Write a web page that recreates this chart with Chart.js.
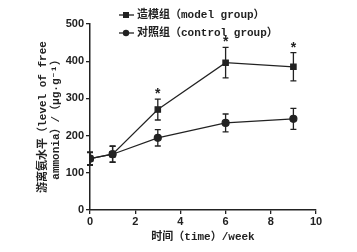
<!DOCTYPE html>
<html lang="zh">
<head>
<meta charset="UTF-8">
<title>游离氨水平</title>
<style>
    html, body { margin: 0; padding: 0; background: #fff; }
    #wrap { width: 357px; height: 252px; }
</style>
</head>
<body>
<div id="wrap"><canvas id="chart" width="357" height="252"></canvas></div>
<script src="https://cdn.jsdelivr.net/npm/chart.js"></script>
<script>
// data
const weeks = [0, 1, 3, 6, 9];
const modelMean = [138, 150, 270, 396, 385];
const modelErr = [18, 22, 28, 41, 38];
const controlMean = [138, 150, 194, 234, 245];
const controlErr = [16, 21, 22, 24, 28];
const starWeeks = [3, 6, 9];
const modelLabel = '造模组（model group）';
const controlLabel = '对照组（control group）';
const xTicks = [0, 2, 4, 6, 8, 10];
const yTicks = [0, 100, 200, 300, 400, 500];

const ink = '#222';
const txtFont = '"Liberation Mono", "Noto Sans CJK SC", monospace';
const numFont = '"Liberation Sans", Arial, sans-serif';

function pts(ys) {
    return weeks.map((w, i) => ({ x: w, y: ys[i] }));
}

// error bars + significance stars
const errorBars = {
    id: 'errorBars',
    beforeDatasetsDraw(chart) {
        const { ctx, scales: { x, y } } = chart;
        ctx.save();
        ctx.strokeStyle = ink;
        ctx.lineWidth = 1.3;
        [[modelMean, modelErr], [controlMean, controlErr]].forEach(([m, e]) => {
            weeks.forEach((w, i) => {
                const px = x.getPixelForValue(w);
                const top = y.getPixelForValue(m[i] + e[i]);
                const bot = y.getPixelForValue(m[i] - e[i]);
                ctx.beginPath();
                ctx.moveTo(px, top); ctx.lineTo(px, bot);
                ctx.moveTo(px - 3, top); ctx.lineTo(px + 3, top);
                ctx.moveTo(px - 3, bot); ctx.lineTo(px + 3, bot);
                ctx.stroke();
            });
        });
        ctx.restore();
    },
    afterDatasetsDraw(chart) {
        const { ctx, scales: { x, y } } = chart;
        ctx.save();
        ctx.fillStyle = ink;
        ctx.font = 'bold 14px ' + numFont;
        ctx.textAlign = 'center';
        ctx.textBaseline = 'middle';
        starWeeks.forEach(w => {
            const i = weeks.indexOf(w);
            const top = y.getPixelForValue(modelMean[i] + modelErr[i]);
            ctx.fillText('*', x.getPixelForValue(w), top - 5);
        });
        ctx.restore();
    }
};

// legend drawn as line + marker + text
const lineLegend = {
    id: 'lineLegend',
    afterDraw(chart) {
        const { ctx } = chart;
        ctx.save();
        ctx.strokeStyle = ink;
        ctx.fillStyle = ink;
        ctx.lineWidth = 1.3;
        ctx.font = 'bold 11px ' + txtFont;
        ctx.textBaseline = 'middle';
        const rows = [[modelLabel, 'rect', 15], [controlLabel, 'circle', 33]];
        rows.forEach(([label, shape, yy]) => {
            ctx.beginPath();
            ctx.moveTo(119, yy); ctx.lineTo(134, yy);
            ctx.stroke();
            ctx.beginPath();
            if (shape === 'rect') ctx.rect(123, yy - 3, 6, 6);
            else ctx.arc(126, yy, 3.2, 0, Math.PI * 2);
            ctx.fill();
            ctx.fillText(label, 137, yy);
        });
        ctx.restore();
    }
};

new Chart(document.getElementById('chart'), {
    type: 'line',
    data: {
        datasets: [
            {
                label: modelLabel,
                data: pts(modelMean),
                borderColor: ink,
                backgroundColor: ink,
                borderWidth: 1.2,
                pointStyle: 'rect',
                pointRadius: 3.8,
                tension: 0
            },
            {
                label: controlLabel,
                data: pts(controlMean),
                borderColor: ink,
                backgroundColor: ink,
                borderWidth: 1.2,
                pointStyle: 'circle',
                pointRadius: 3.5,
                tension: 0
            }
        ]
    },
    options: {
        responsive: false,
        animation: false,
        devicePixelRatio: 1,
        layout: { padding: { top: 24, right: 41, left: 36, bottom: 8 } },
        plugins: { legend: { display: false }, tooltip: { enabled: false } },
        scales: {
            x: {
                type: 'linear',
                min: 0,
                max: 10,
                afterFit: s => { s.height = 34; },
                afterBuildTicks: s => { s.ticks = xTicks.map(v => ({ value: v })); },
                grid: { drawOnChartArea: false, drawTicks: true, tickLength: 4, color: ink, lineWidth: 1.3 },
                border: { display: true, color: ink, width: 1.5 },
                ticks: { color: ink, padding: 1, font: { family: numFont, size: 11, weight: 'bold' } },
                title: {
                    display: true,
                    text: '时间（time）/week',
                    color: ink,
                    padding: { top: 0, bottom: 0 },
                    font: { family: txtFont, size: 11, weight: 'bold' }
                }
            },
            y: {
                min: 0,
                max: 500,
                afterFit: s => { s.width = 54; },
                afterBuildTicks: s => { s.ticks = yTicks.map(v => ({ value: v })); },
                grid: { drawOnChartArea: false, drawTicks: true, tickLength: 4, color: ink, lineWidth: 1.3 },
                border: { display: true, color: ink, width: 1.5 },
                ticks: { color: ink, padding: 2, font: { family: numFont, size: 11, weight: 'bold' } },
                title: {
                    display: true,
                    text: ['游离氨水平（level of free', 'ammonia）/（μg·g⁻¹）'],
                    color: ink,
                    padding: { top: 0, bottom: 0 },
                    font: { family: txtFont, size: 11, weight: 'bold', lineHeight: 1.25 }
                }
            }
        }
    },
    plugins: [errorBars, lineLegend]
});
</script>
</body>
</html>
